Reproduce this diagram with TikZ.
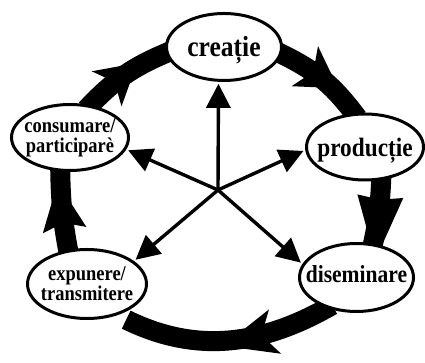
\documentclass[tikz,border=0pt]{standalone}
\usepackage{fontspec}
\setmainfont{Liberation Serif}[FakeStretch=0.88]
\usetikzlibrary{arrows.meta,decorations.markings,shapes.geometric}
\pgfdeclarelayer{bg}
\pgfsetlayers{bg,main}
\tikzset{
  stage/.style={ellipse, draw, line width=3pt, fill=white, inner sep=0pt},
  lbl/.style={inner sep=0pt, align=center},
  spoke/.style={line width=3.4pt, -{Triangle[length=24pt,width=24pt]}, shorten >=2pt},
  band/.style={line width=20pt, line cap=butt},
  bandhead/.style n args={4}{postaction={decorate, decoration={markings,
      mark=at position #1 with {\fill (-#4,#2) -- (#3,0) -- (-#4,-#2) -- (0,-10) -- (0,10) -- cycle;}}}},
}
\begin{document}
\begin{tikzpicture}[x=1pt,y=1pt]
\useasboundingbox (0,0) rectangle (425,363);
\node[stage, minimum width=115pt, minimum height=67pt] (cre) at (224,316) {};
\node[stage, minimum width=117pt, minimum height=66pt] (pro) at (365,216) {};
\node[stage, minimum width=114pt, minimum height=68pt] (dis) at (356.5,85.5) {};
\node[stage, minimum width=119pt, minimum height=69pt] (exp) at (87,79) {};
\node[stage, minimum width=117pt, minimum height=66pt] (con) at (70,225.5) {};
\coordinate (o) at (218,173);

\node[lbl, font=\bfseries\fontsize{29}{29}\selectfont, anchor=base] (tcre) at ([yshift=-10pt]cre.center) {creație};
\node[lbl, font=\bfseries\fontsize{26.5}{26.5}\selectfont, anchor=base] (tpro) at ([yshift=-10pt]pro.center) {producție};
\node[lbl, font=\bfseries\fontsize{24.5}{24.5}\selectfont, anchor=base] (tdis) at ([yshift=-5.5pt]dis.center) {diseminare};
\node[lbl, font=\bfseries\fontsize{21}{20}\selectfont] (texp) at (exp.center) {expunere/\\transmitere};
\node[lbl, font=\bfseries\fontsize{21}{20}\selectfont] (tcon) at (con.center) {consumare/\\participarè};

\begin{pgfonlayer}{bg}
\draw[spoke] (o) -- (cre.-99);
\draw[spoke] (o) -- (con.-12);
\draw[spoke] (o) -- (pro.183);
\draw[spoke] (o) -- (exp.26);
\draw[spoke] (o) -- (dis.166);

\draw[band, bandhead={32pt}{24}{34}{6}, shorten <=-6pt, shorten >=-6pt] (cre.-7.5) to[bend left=14] (pro.108);
\draw[band, bandhead={18pt}{23}{62}{2}, shorten <=-6pt, shorten >=-6pt] (pro.-64) to[bend left=5] (dis.64);
\draw[band, bandhead={65pt}{23}{46}{8}, shorten <=-6pt, shorten >=10pt] (dis.226.5) to[bend left=28] (exp.314);
\draw[band, bandhead={24pt}{22}{44}{4}, shorten <=-6pt, shorten >=-6pt] (exp.119) to[bend left=5] (con.254);
\draw[band, bandhead={29pt}{23}{34}{6}, shorten <=-6pt, shorten >=-6pt] (con.58) to[bend left=12] (cre.186);
\end{pgfonlayer}
\end{tikzpicture}
\end{document}
